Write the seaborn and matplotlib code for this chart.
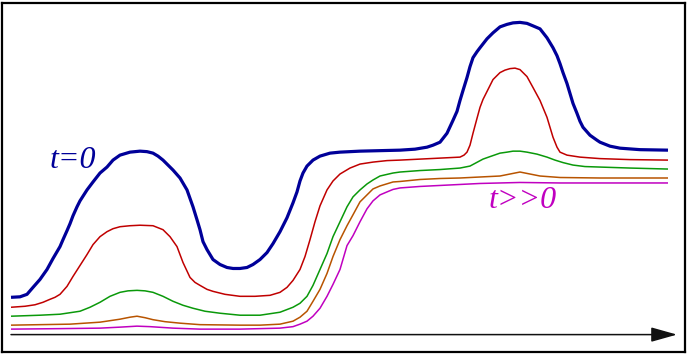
import matplotlib
matplotlib.use("Agg")
import matplotlib.pyplot as plt
import seaborn as sns
import pandas as pd

# Curves, in pixel coordinates (y grows downwards)
blue_x = [11, 20, 27, 33, 40, 47, 53, 60, 63, 67, 70, 73, 77, 80, 87, 93, 100, 107, 113, 120, 130, 140, 147, 153,
          158, 163, 168, 173, 180, 187, 193, 197, 200, 203, 207, 213, 220, 227, 233, 240, 247, 253, 260, 267,
          273, 280, 287, 293, 297, 300, 303, 307, 313, 320, 330, 340, 360, 380, 400, 415, 427, 433, 440, 447,
          453, 457, 460, 463, 467, 470, 473, 477, 480, 487, 493, 500, 507, 513, 520, 527, 533, 540, 547, 553,
          557, 560, 563, 567, 570, 573, 577, 580, 583, 590, 597, 600, 610, 620, 640, 668]
blue_y = [298, 297.5, 295, 288, 280, 270, 259, 247, 240, 231, 224, 216, 207, 201, 190, 182, 173, 167, 160, 155, 152, 151, 151.5, 153,
          156, 160, 165, 170, 178, 190, 207, 220, 230, 242, 250, 260, 265, 268, 269, 269, 268, 265, 260, 253,
          244, 232, 218, 203, 192, 181, 173, 166, 160, 156, 153, 152, 151, 150.5, 150, 149, 147, 145, 142, 133,
          120, 111, 100, 90, 77, 66, 57, 51, 47, 38, 32, 26, 23.5, 22, 21.5, 22.5, 25, 28, 37, 47,
          55, 63, 72, 83, 93, 103, 113, 121, 127, 135, 140, 142, 146, 148, 149.5, 150]

red_x = [11, 25, 35, 43, 50, 55, 60, 67, 73, 80, 87, 93, 100, 107, 113, 120, 130, 140, 153, 163, 170, 177,
         183, 190, 195, 200, 207, 213, 225, 240, 255, 270, 280, 287, 293, 300, 305, 310, 315, 320, 327, 333,
         340, 350, 360, 373, 387, 400, 420, 440, 460, 464, 467, 470, 473, 477, 480, 483, 487, 493, 500, 505,
         510, 515, 520, 527, 533, 540, 547, 553, 557, 560, 567, 580, 600, 630, 668]
red_y = [308, 307, 305.5, 303, 300, 298, 295, 287, 277, 266, 255, 245, 237, 232, 229, 227, 226, 225.5, 226, 230, 237, 247,
         263, 278, 283, 286, 290, 292, 295, 297, 297, 296, 293, 288, 281, 270, 257, 240, 222, 206, 190, 181,
         174, 168, 164, 162, 160.5, 160, 159, 158, 157, 155, 152, 145, 133, 118, 107, 99, 91, 79, 72, 69.5,
         68, 67.5, 69, 76, 87, 100, 117, 137, 147, 152, 155, 157, 158.5, 159.5, 160]

green_x = [11, 40, 60, 80, 90, 100, 110, 120, 128, 137, 145, 153, 163, 173, 183, 193, 205, 220, 240, 260, 280,
           293, 300, 307, 313, 320, 327, 333, 340, 347, 353, 360, 367, 373, 380, 393, 400, 420, 440, 460, 470,
           483, 490, 500, 507, 513, 520, 527, 537, 547, 555, 563, 573, 585, 600, 630, 668]
green_y = [317, 316, 315, 312, 308, 303, 297, 293, 291.5, 291, 291.5, 293, 297, 302, 306, 309, 312, 314, 316, 316, 313,
           308, 304, 297, 286, 270, 254, 237, 222, 207, 197, 190, 184, 180, 176, 173, 172, 170.5, 169.5, 168, 166,
           159, 156.5, 153, 152, 151, 151, 152, 154, 157, 160, 162.5, 165, 166.5, 167, 168, 169]

orange_x = [11, 40, 70, 100, 120, 130, 137, 145, 153, 165, 180, 200, 240, 260, 280, 293, 300, 307, 313, 320,
            327, 333, 340, 347, 353, 360, 367, 373, 380, 393, 400, 420, 440, 460, 480, 500, 510, 520, 530,
            540, 560, 600, 668]
orange_y = [326, 325.5, 325, 323, 320, 318, 317, 318.5, 320.5, 322.5, 324, 325.5, 326, 326, 325, 322, 318, 312, 302, 290,
            274, 257, 240, 226, 215, 202, 195, 189, 186, 182, 181.5, 179.5, 178.5, 178, 177, 176, 174, 172, 174,
            176, 177.5, 178, 178]

magenta_x = [11, 60, 100, 120, 137, 150, 173, 200, 240, 280, 293, 300, 307, 313, 320, 327, 333, 340, 347, 353,
             360, 367, 373, 380, 387, 393, 400, 420, 450, 480, 520, 560, 600, 668]
magenta_y = [330, 329.5, 329, 328, 327, 327.5, 329, 330, 330, 329, 327.5, 325, 322, 317, 309, 297, 285, 270, 246, 236,
             222, 209, 201, 195, 192, 189.5, 188, 186.5, 185, 183.5, 182.5, 183, 183, 183]

curve_names = ["blue", "red", "green", "orange", "magenta"]
curve_colors = {"blue": "#000099", "red": "#c00000", "green": "#0a990a",
                "orange": "#b85400", "magenta": "#c000c0"}
curve_widths = {"blue": 2.3, "red": 1.1, "green": 1.1, "orange": 1.1, "magenta": 1.1}

label_start = "t=0"
label_end = "t>>0"

arrow_x = [11, 677]
arrow_y = 335.5

frames = []
for name, xs, ys in [("blue", blue_x, blue_y), ("red", red_x, red_y), ("green", green_x, green_y),
                     ("orange", orange_x, orange_y), ("magenta", magenta_x, magenta_y)]:
    frames.append(pd.DataFrame({"curve": name, "x": xs, "y": ys}))
df = pd.concat(frames, ignore_index=True)

sns.set_style("white")

fig = plt.figure(figsize=(6.89, 3.56), dpi=100)
ax = fig.add_axes([2 / 689, 4 / 356, 683 / 689, 349 / 356])

# draw lightest curves first so the blue one stays on top
sns.lineplot(data=df, x="x", y="y", hue="curve", size="curve",
             hue_order=curve_names[::-1], size_order=curve_names[::-1],
             palette=curve_colors, sizes=curve_widths,
             sort=False, estimator=None, legend=False, ax=ax,
             solid_joinstyle="round", solid_capstyle="butt")

ax.annotate("", xy=(arrow_x[1], arrow_y), xytext=(arrow_x[0], arrow_y),
            arrowprops=dict(arrowstyle="-|>,head_length=1.6,head_width=0.45",
                            color="#111111", lw=1.1, shrinkA=0, shrinkB=0))

ax.text(50, 168, label_start, color="#000099", fontsize=23, fontstyle="italic",
        family="Liberation Serif", ha="left", va="baseline")
ax.text(489, 208, label_end, color="#c000c0", fontsize=23, fontstyle="italic",
        family="Liberation Serif", ha="left", va="baseline")

ax.set_xlim(2, 685)
ax.set_ylim(353, 2)
ax.set_xticks([])
ax.set_yticks([])
ax.set_xlabel("")
ax.set_ylabel("")
for spine in ax.spines.values():
    spine.set_visible(True)
    spine.set_color("black")
    spine.set_linewidth(1.6)

fig.savefig("out.png", dpi=100, facecolor="white")
